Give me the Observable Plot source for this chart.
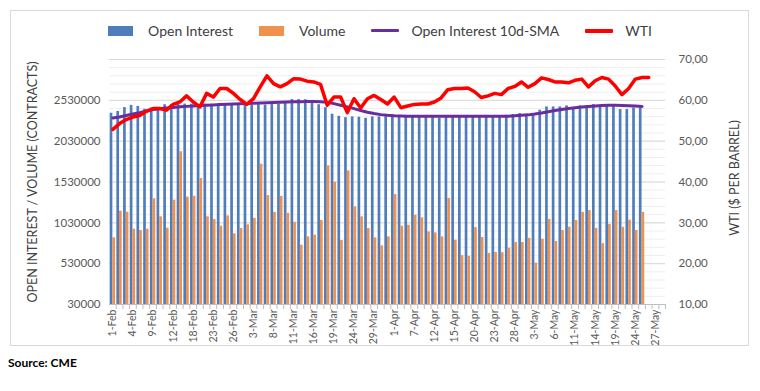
<!DOCTYPE html>
<html>
<head>
<meta charset="utf-8">
<script src="https://cdn.jsdelivr.net/npm/d3@7"></script>
<script src="https://cdn.jsdelivr.net/npm/@observablehq/plot@0.6"></script>
<style>
  body { margin: 0; background: #fff; font-family: Lato, "Noto Sans", sans-serif; }
  #wrap { position: relative; width: 760px; height: 391px; overflow: hidden; background: #fff; }
  #box { position: absolute; left: 10px; top: 10px; width: 737px; height: 334px; border: 1px solid #d9d9d9; }
  #chart { position: absolute; left: 0; top: 0; }
  #legend { position: absolute; top: 22px; left: 0; width: 760px; display: flex; justify-content: center; align-items: center; font-size: 14px; color: #404040; }
  .item { display: flex; align-items: center; margin: 0 13px; }
  .sw { width: 25px; height: 10px; margin-right: 15px; }
  .ln { width: 28px; height: 3px; margin-right: 12px; border-radius: 1px; }
  .ytitle { position: absolute; font-size: 12.5px; color: #404040; white-space: nowrap; transform: translate(-50%, -50%) rotate(-90deg); }
  #source { position: absolute; left: 8px; top: 355px; font-size: 12px; font-weight: bold; color: #000; }
</style>
</head>
<body>
<div id="wrap">
  <div id="box"></div>
  <div id="chart"></div>
  <div id="legend"></div>
  <div class="ytitle" style="left:32px; top:182px;">OPEN INTEREST / VOLUME (CONTRACTS)</div>
  <div class="ytitle" style="left:734px; top:178px;">WTI ($ PER BARREL)</div>
  <div id="source">Source: CME</div>
</div>
<script>
// Trading days (categories)
const dates = [
  "1-Feb","2-Feb","3-Feb","4-Feb","5-Feb","8-Feb","9-Feb","10-Feb","11-Feb","12-Feb",
  "16-Feb","17-Feb","18-Feb","19-Feb","22-Feb","23-Feb","24-Feb","25-Feb","26-Feb",
  "1-Mar","2-Mar","3-Mar","4-Mar","5-Mar","8-Mar","9-Mar","10-Mar","11-Mar","12-Mar",
  "15-Mar","16-Mar","17-Mar","18-Mar","19-Mar","22-Mar","23-Mar","24-Mar","25-Mar","26-Mar",
  "29-Mar","30-Mar","31-Mar",
  "1-Apr","5-Apr","6-Apr","7-Apr","8-Apr","9-Apr","12-Apr","13-Apr","14-Apr","15-Apr",
  "16-Apr","19-Apr","20-Apr","21-Apr","22-Apr","23-Apr","26-Apr","27-Apr","28-Apr","29-Apr","30-Apr",
  "3-May","4-May","5-May","6-May","7-May","10-May","11-May","12-May","13-May","14-May",
  "17-May","18-May","19-May","20-May","21-May","24-May","25-May","26-May","27-May","28-May"
];

// Open interest (contracts)
const openInterest = [
  2372000,2394000,2441000,2468000,2455000,2420000,2435000,2443000,2476000,2478000,
  2480000,2484000,2482000,2480000,2484000,2482000,2484000,2484000,2482000,2478000,
  2472000,2472000,2478000,2472000,2478000,2480000,2505000,2539000,2539000,2537000,
  2505000,2476000,2440000,2360000,2335000,2318000,2327000,2323000,2310000,2327000,
  2327000,2330000,2345000,2338000,2335000,2335000,2335000,2335000,2318000,2310000,
  2335000,2335000,2335000,2335000,2335000,2335000,2335000,2335000,2335000,2347000,
  2356000,2368000,2356000,2368000,2409000,2449000,2449000,2449000,2462000,2429000,
  2462000,2462000,2478000,2462000,2462000,2462000,2417000,2417000,2437000,2437000
];

// Volume (contracts)
const volume = [
  846000,1172000,1160000,952000,936000,952000,1323000,1103000,964000,1307000,
  1900000,1344000,1356000,1572000,1103000,1070000,989000,1115000,895000,960000,
  1005000,1085000,1748000,1364000,1158000,1354000,1146000,1036000,756000,858000,
  879000,1058000,1727000,1527000,813000,1666000,1225000,1103000,960000,846000,
  748000,858000,1376000,989000,1001000,1123000,1091000,919000,907000,858000,
  1327000,817000,628000,620000,972000,850000,654000,668000,664000,720000,
  789000,789000,840000,536000,828000,1072000,801000,936000,976000,1058000,
  1158000,1180000,962000,775000,1009000,1180000,975000,1062000,936000,1158000
];

// Open interest 10-day SMA (contracts)
const oiSma = [
  2315000,2327000,2345000,2362000,2378000,2400000,2418000,2428000,2436000,2442000,
  2450000,2456000,2462000,2468000,2471000,2474000,2478000,2482000,2486000,2489000,
  2492000,2495000,2498000,2501000,2504000,2507000,2510000,2512000,2514000,2515000,
  2515000,2512000,2505000,2490000,2470000,2450000,2428000,2405000,2385000,2368000,
  2355000,2346000,2341000,2338000,2336000,2335000,2335000,2335000,2335000,2335000,
  2335000,2335000,2335000,2335000,2335000,2335000,2335000,2335000,2335000,2336000,
  2340000,2346000,2352000,2362000,2375000,2390000,2405000,2418000,2430000,2440000,
  2448000,2455000,2461000,2466000,2469000,2470000,2468000,2465000,2460000,2456000
];

// WTI ($ per barrel)
const wti = [
  52.9,54.3,55.3,55.9,56.3,57.3,58.0,58.0,57.6,59.0,
  59.6,61.1,59.6,58.4,61.7,60.8,62.9,62.9,61.7,60.2,
  59.0,60.4,63.3,66.0,64.1,63.3,64.1,65.3,65.2,64.7,
  64.5,63.9,58.8,60.8,60.8,57.0,60.4,58.1,60.4,61.2,
  60.2,59.1,60.8,58.2,58.6,59.0,59.1,59.1,59.6,60.6,
  62.6,62.9,62.9,63.0,62.1,60.7,61.1,61.7,61.4,62.9,
  63.4,64.5,63.2,64.1,65.5,65.1,64.5,64.5,64.3,64.9,
  65.2,63.3,64.8,65.6,65.2,63.5,61.4,62.9,65.2,65.6,65.6
];

// Axis ticks
const leftTicks = [30000, 530000, 1030000, 1530000, 2030000, 2530000];
const rightTicks = [10, 20, 30, 40, 50, 60, 70];
const labelDates = dates.filter((d, i) => i % 3 === 0);

const colors = { oi: "#4f7dbc", vol: "#f0914d", sma: "#6a2d9f", wti: "#ff0000" };
const series = ["Open Interest", "Volume", "Open Interest 10d-SMA", "WTI"];

const yMin = 30000, yMax = 3030000;
const toLeft = w => yMin + (w - 10) * 50000;

const barRows = openInterest.map((v, i) => ({ date: dates[i], oi: v, vol: volume[i], sma: oiSma[i] }));
const wtiRows = wti.map((v, i) => ({ date: dates[i], w: v }));

const W = 760, H = 350, mL = 109, mR = 95, mT = 59, mB = 46;
const step = (W - mL - mR) / dates.length;
const half = step * 0.8 / 2;

const minorGrid = d3.range(yMin, yMax + 1, 100000);
const majorGrid = d3.range(yMin, yMax + 1, 500000);

const chart = Plot.plot({
  width: W, height: H,
  marginLeft: mL, marginRight: mR, marginTop: mT, marginBottom: mB,
  style: { fontFamily: "Lato, 'Noto Sans', sans-serif", fontSize: "11px", color: "#595959", background: "transparent" },
  x: { type: "band", domain: dates, paddingInner: 0.2, paddingOuter: 0.1 },
  y: { domain: [yMin, yMax] },
  marks: [
    Plot.ruleY(minorGrid, { stroke: "#eeeeee", strokeWidth: 1 }),
    Plot.ruleY(majorGrid, { stroke: "#d9d9d9", strokeWidth: 1 }),
    Plot.barY(barRows, { x: "date", y1: yMin, y2: "oi", fill: colors.oi, insetRight: half }),
    Plot.barY(barRows, { x: "date", y1: yMin, y2: "vol", fill: colors.vol, insetLeft: half }),
    Plot.ruleY([yMin], { stroke: "#bfbfbf" }),
    Plot.lineY(barRows, { x: "date", y: "sma", stroke: colors.sma, strokeWidth: 3 }),
    Plot.lineY(wtiRows, { x: "date", y: d => toLeft(d.w), stroke: colors.wti, strokeWidth: 3.5, strokeLinejoin: "round" }),
    Plot.axisY({ anchor: "left", ticks: leftTicks, tickSize: 0, tickPadding: 9, label: null, fontSize: 11.5, tickFormat: d => String(d) }),
    Plot.axisY({ anchor: "right", ticks: rightTicks.map(toLeft), tickSize: 0, tickPadding: 13, label: null, fontSize: 11.5,
      tickFormat: v => ((v - yMin) / 50000 + 10).toFixed(2).replace(".", ",") }),
    Plot.axisX({ ticks: dates, tickSize: 5, dx: step / 2, tickFormat: () => "", label: null, stroke: "#bfbfbf" }),
    Plot.axisX({ ticks: labelDates, tickSize: 0, tickPadding: 5, tickRotate: -90, label: null, fontSize: 10.5 })
  ]
});
document.getElementById("chart").appendChild(chart);

// Legend
const legend = document.getElementById("legend");
const kinds = ["sw", "sw", "ln", "ln"];
const cols = [colors.oi, colors.vol, colors.sma, colors.wti];
series.forEach((name, i) => {
  const it = document.createElement("div");
  it.className = "item";
  const s = document.createElement("div");
  s.className = kinds[i];
  s.style.background = cols[i];
  if (i === 3) s.style.height = "4px";
  it.appendChild(s);
  const t = document.createElement("span");
  t.textContent = name;
  it.appendChild(t);
  legend.appendChild(it);
});
</script>
</body>
</html>
